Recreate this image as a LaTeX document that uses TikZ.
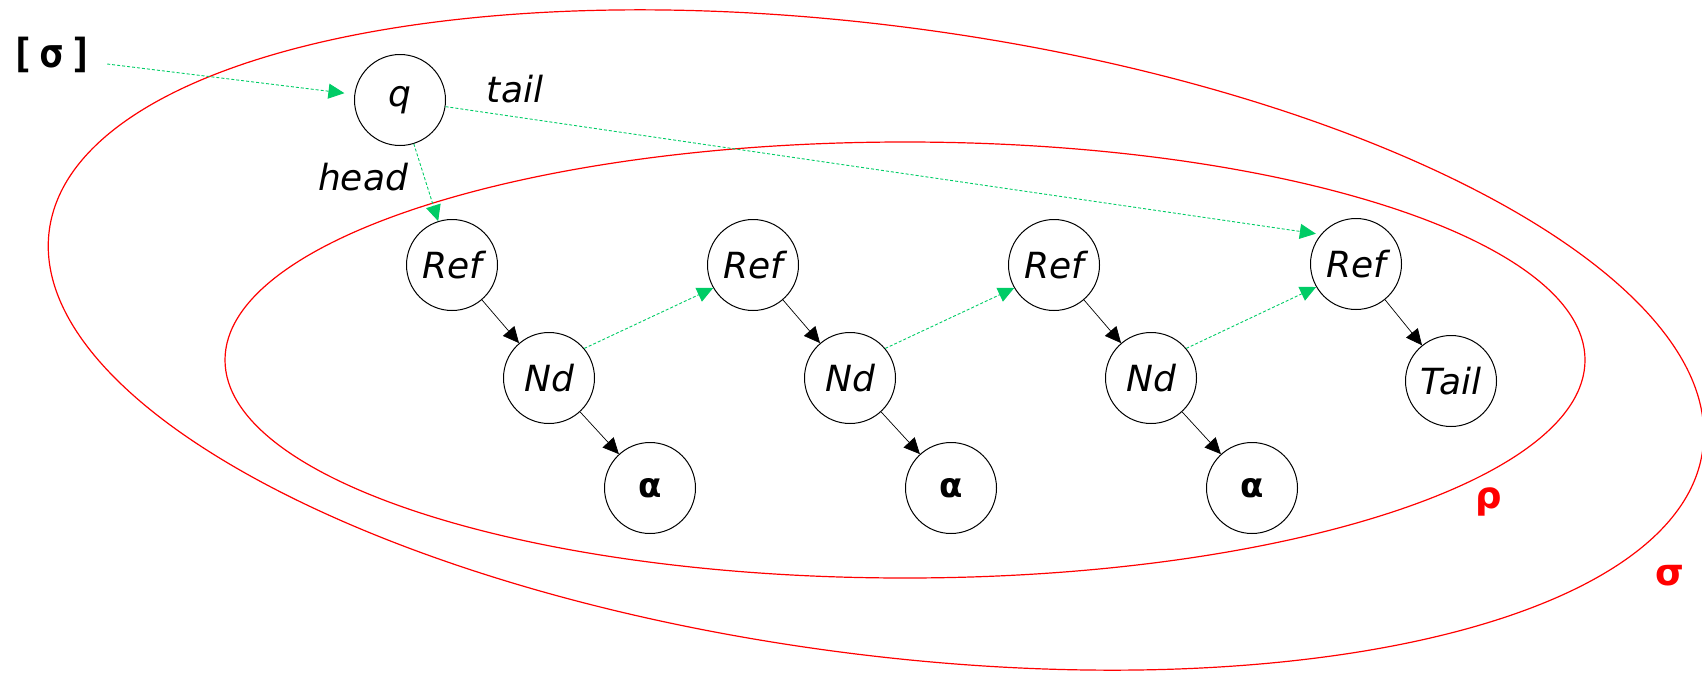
\documentclass[tikz,border=0pt]{standalone}
\usepackage{fontspec}
\setmainfont{DejaVu Sans}
\newfontfamily\monofam{DejaVu Sans Mono}
\usetikzlibrary{arrows.meta}
\definecolor{setred}{RGB}{255,0,0}
\definecolor{linkgreen}{RGB}{0,204,102}
\tikzset{
  cell/.style={circle, draw=black, line width=1pt, minimum size=91pt, inner sep=0pt,
    font=\fontsize{36}{43}\selectfont\itshape},
  valcell/.style={cell, font=\fontsize{34}{41}\selectfont\bfseries},
  lbl/.style={inner sep=0pt, font=\fontsize{36}{43}\selectfont\itshape},
  setlbl/.style={inner sep=0pt, text=setred, font=\fontsize{37}{44}\selectfont\bfseries},
  setline/.style={draw=setred, line width=1.2pt},
  ptr/.style={-{Triangle[length=16pt,width=15pt]}, draw=black, line width=0.7pt},
  link/.style={-{Triangle[length=16pt,width=15pt]}, draw=linkgreen, line width=0.9pt,
    dash pattern=on 3pt off 2pt},
}
\begin{document}
\begin{tikzpicture}[x=1pt, y=-1pt]
\useasboundingbox (0,0) rectangle (1702,672);

% the two nested sets
\draw[setline] (905,360) ellipse [x radius=680pt, y radius=218pt];
\draw[setline, rotate around={-7.57:(876,340)}] (876,340) ellipse [x radius=834pt, y radius=314pt];

% cells of the list
\node[cell] (q)  at (400,100) {q};
\node[cell] (r1) at (452,265) {Ref};
\node[cell] (n1) at (549,378) {Nd};
\node[valcell] (a1) at (650,488) {α};
\node[cell] (r2) at (753,265) {Ref};
\node[cell] (n2) at (850,378) {Nd};
\node[valcell] (a2) at (951,488) {α};
\node[cell] (r3) at (1054,265) {Ref};
\node[cell] (n3) at (1151,378) {Nd};
\node[valcell] (a3) at (1252,488) {α};
\node[cell] (r4) at (1356,264) {Ref};
\node[cell] (t)  at (1451,381) {Tail};

% labels
\node[inner sep=0pt, font=\monofam\bfseries\fontsize{40}{46}\selectfont] (env) at (52,55) {[\kern5ptσ\kern5pt]};
\node[lbl] (headlbl) at (363,177) {head};
\node[lbl] (taillbl) at (515,89) {tail};
\node[setlbl] (rho) at (1489,502) {ρ};
\node[setlbl] (sigma) at (1670,576) {σ};

% heap links
\draw[ptr] (r1) -- (n1);
\draw[ptr] (n1) -- (a1);
\draw[ptr] (r2) -- (n2);
\draw[ptr] (n2) -- (a2);
\draw[ptr] (r3) -- (n3);
\draw[ptr] (n3) -- (a3);
\draw[ptr] (r4) -- (t);

% pointer links
\draw[link, shorten <=14pt, shorten >=10pt] (env.-10) -- (q);
\draw[link] (q) -- (r1);
\draw[link, shorten >=5pt] (q) -- (r4.140);
\draw[link] (n1.40) -- (r2.210);
\draw[link] (n2.40) -- (r3.210);
\draw[link] (n3.40) -- (r4.210);
\end{tikzpicture}
\end{document}
